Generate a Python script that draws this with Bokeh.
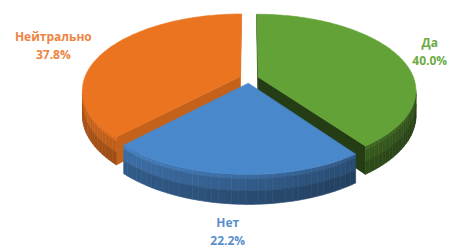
import math
from bokeh.plotting import figure
from bokeh.models import Range1d
from bokeh.embed import file_html
from bokeh.resources import INLINE
from bokeh.core.properties import value

# ---- data ----
categories = ["Да", "Нет", "Нейтрально"]
shares = [40.0, 22.2, 37.8]

# ---- style ----
top_colors = ["#62a236", "#4a88cc", "#eb7420"]
label_colors = ["#6cab44", "#5a8fcc", "#ee8442"]

W, H = 451, 249
CX, CY = 248.5, 78.0       # projected pie centre (page pixels)
RX, RY = 155.7, 74.0       # radii of the top face
K = 0.17                   # perspective strength
TH = 24.6                  # thickness
EXPLODE = 0.062
LX, LYB, LYF = 170.0, 88.0, 153.0
CHAR_W = 7.6

p = figure(width=W, height=H, x_range=Range1d(0, W), y_range=Range1d(H, 0),
           output_backend="svg", toolbar_location=None, min_border=0,
           x_axis_location=None, y_axis_location=None)
p.grid.visible = False
p.outline_line_color = None
p.background_fill_color = "white"
p.border_fill_color = "white"


def proj(x, z, h):
    w = 1.0 + K * z
    return CX + RX * x / w, CY - (RY * z + TH * h) / w


def hex2rgb(c):
    c = c.lstrip("#")
    return [int(c[i:i + 2], 16) for i in (0, 2, 4)]


def shade(c, f):
    r = hex2rgb(c)
    if f <= 1:
        r = [v * f for v in r]
    else:
        r = [v + (255 - v) * (f - 1) for v in r]
    return "#%02x%02x%02x" % tuple(int(max(0, min(255, round(v)))) for v in r)


total = sum(shares)
bounds = []
acc = 0.0
for s in shares:
    a0 = 2 * math.pi * acc / total
    acc += s
    a1 = 2 * math.pi * acc / total
    bounds.append((a0, a1))

camz = -1.0 / K
slices = []
for i, (a0, a1) in enumerate(bounds):
    m = 0.5 * (a0 + a1)
    ox, oz = EXPLODE * math.sin(m), EXPLODE * math.cos(m)
    slices.append((oz, i, a0, a1, ox))

# back slices first
slices.sort(key=lambda t: -t[0])

bands = [(0.0, -0.15, 1.12), (-0.15, -0.55, 0.96), (-0.55, -1.0, 0.80)]

for oz, i, a0, a1, ox in slices:
    base = top_colors[i]
    xs_list, ys_list, cols = [], [], []

    # cut faces
    for ang, is_start in ((a0, True), (a1, False)):
        if is_start:
            n = (-math.cos(ang), math.sin(ang))
        else:
            n = (math.cos(ang), -math.sin(ang))
        vis = (0 - ox) * n[0] + (camz - oz) * n[1]
        if vis > 0:
            rx, rz = ox + math.sin(ang), oz + math.cos(ang)
            pts = [proj(ox, oz, 0), proj(rx, rz, 0), proj(rx, rz, -1), proj(ox, oz, -1)]
            xs_list.append([q[0] for q in pts])
            ys_list.append([q[1] for q in pts])
            cols.append(shade(base, 0.62 + 0.3 * n[0]))

    # outer wall
    nseg = max(10, int(math.degrees(a1 - a0) / 2))
    for j in range(nseg):
        ta = a0 + (a1 - a0) * j / nseg
        tb = a0 + (a1 - a0) * (j + 1) / nseg
        tm = 0.5 * (ta + tb)
        px, pz = ox + math.sin(tm), oz + math.cos(tm)
        if (-px) * math.sin(tm) + (camz - pz) * math.cos(tm) <= 0:
            continue
        f = 0.7 - 0.2 * math.sin(tm)
        xa, za = ox + math.sin(ta), oz + math.cos(ta)
        xb, zb = ox + math.sin(tb), oz + math.cos(tb)
        for h0, h1, bf in bands:
            pts = [proj(xa, za, h0), proj(xb, zb, h0), proj(xb, zb, h1), proj(xa, za, h1)]
            xs_list.append([q[0] for q in pts])
            ys_list.append([q[1] for q in pts])
            cols.append(shade(base, f * bf))

    if xs_list:
        p.patches(xs_list, ys_list, fill_color=cols, line_color=cols, line_width=0.6)

    # top face
    ntop = max(24, int(math.degrees(a1 - a0)))
    tx, ty = [], []
    c0 = proj(ox, oz, 0)
    tx.append(c0[0]); ty.append(c0[1])
    for j in range(ntop + 1):
        t = a0 + (a1 - a0) * j / ntop
        q = proj(ox + math.sin(t), oz + math.cos(t), 0)
        tx.append(q[0]); ty.append(q[1])
    p.patch(tx, ty, fill_color=base, line_color=base, line_width=0.6)

# labels
lx, ly, names, pcts, lcols = [], [], [], [], []
for i, (a0, a1) in enumerate(bounds):
    m = 0.5 * (a0 + a1)
    sm, cm = math.sin(m), math.cos(m)
    pct = f"{shares[i]:.1f}%"
    half = 0.5 * CHAR_W * max(len(categories[i]), len(pct))
    x = CX + LX * sm + half * math.tanh(8 * sm)
    y = CY - (LYB if cm > 0 else LYF) * cm
    lx.append(x); ly.append(y)
    names.append(categories[i]); pcts.append(pct); lcols.append(label_colors[i])

common = dict(text_font=value("Open Sans"), text_font_style="bold", text_font_size="12px",
              text_align="center", text_baseline="middle")
p.text(x=lx, y=ly, text=names, text_color=lcols, y_offset=-9, **common)
p.text(x=lx, y=ly, text=pcts, text_color=lcols, y_offset=9, **common)

open("out.html", "w").write(file_html(p, INLINE))
